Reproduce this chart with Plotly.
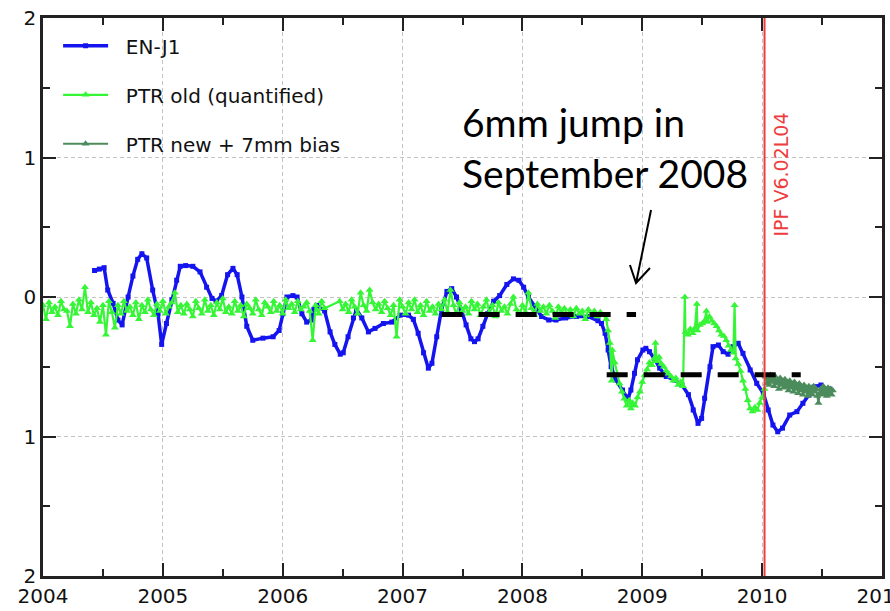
import plotly.graph_objects as go

# ---------------------------------------------------------------------------
# EN-J1 (Envisat minus Jason-1) relative range series
# ---------------------------------------------------------------------------
enj1_year = [
    2004.43, 2004.47, 2004.51, 2004.54, 2004.585, 2004.625, 2004.66, 2004.71,
    2004.75, 2004.79, 2004.825, 2004.865, 2004.915, 2004.96, 2004.99, 2005.03,
    2005.075, 2005.115, 2005.145, 2005.19, 2005.25, 2005.31, 2005.365, 2005.41,
    2005.445, 2005.49, 2005.54, 2005.585, 2005.62, 2005.66, 2005.70, 2005.75,
    2005.835, 2005.92, 2005.97, 2006.00, 2006.035, 2006.085, 2006.12, 2006.16,
    2006.20, 2006.24, 2006.26, 2006.285, 2006.35, 2006.395, 2006.435, 2006.48,
    2006.505, 2006.545, 2006.59, 2006.615, 2006.66, 2006.715, 2006.77, 2006.84,
    2006.91, 2006.98, 2007.05, 2007.09, 2007.13, 2007.175, 2007.215, 2007.245,
    2007.285, 2007.325, 2007.37, 2007.41, 2007.45, 2007.49, 2007.53, 2007.57,
    2007.60, 2007.63, 2007.67, 2007.71, 2007.76, 2007.81, 2007.87, 2007.925,
    2007.97, 2008.01, 2008.05, 2008.11, 2008.16, 2008.22, 2008.28, 2008.36,
    2008.45, 2008.55, 2008.63, 2008.66, 2008.69, 2008.715, 2008.74, 2008.78,
    2008.835, 2008.88, 2008.905, 2008.935, 2008.96, 2009.005, 2009.03, 2009.06,
    2009.10, 2009.145, 2009.20, 2009.27, 2009.33, 2009.385, 2009.425, 2009.465,
    2009.495, 2009.52, 2009.565, 2009.59, 2009.635, 2009.675, 2009.716, 2009.757,
    2009.80, 2009.84, 2009.90, 2009.955, 2010.01, 2010.05, 2010.09, 2010.13,
    2010.17, 2010.23, 2010.29, 2010.34, 2010.39, 2010.44, 2010.49, 2010.545,
    2010.565,
]
enj1_val = [
    0.19, 0.20, 0.21, 0.05, -0.045, -0.165, -0.20, 0.0,
    0.15, 0.27, 0.31, 0.28, 0.05, -0.12, -0.34, -0.19,
    -0.02, 0.12, 0.22, 0.225, 0.22, 0.18, 0.07, -0.01,
    -0.03, 0.01, 0.16, 0.205, 0.16, 0.0, -0.21, -0.31,
    -0.295, -0.285, -0.24, -0.12, 0.0, 0.01, 0.0, -0.12,
    -0.18, -0.165, -0.09, -0.06, -0.10, -0.25, -0.34, -0.41,
    -0.40, -0.285, -0.15, -0.09, -0.15, -0.25, -0.225, -0.19,
    -0.18, -0.13, -0.13, -0.16, -0.26, -0.40, -0.51, -0.475,
    -0.285, -0.09, 0.04, 0.06, 0.0, -0.09, -0.20, -0.30,
    -0.32, -0.30, -0.21, -0.12, -0.03, 0.01, 0.09, 0.13,
    0.12, 0.07, 0.0, -0.08, -0.14, -0.165, -0.165, -0.15,
    -0.14, -0.14, -0.17, -0.19, -0.26, -0.38, -0.50, -0.595,
    -0.667, -0.73, -0.667, -0.547, -0.45, -0.38, -0.368, -0.392,
    -0.44, -0.51, -0.57, -0.595, -0.63, -0.70, -0.81, -0.906,
    -0.87, -0.726, -0.50, -0.356, -0.344, -0.392, -0.41, -0.356,
    -0.332, -0.404, -0.523, -0.619, -0.69, -0.81, -0.918, -0.966,
    -0.94, -0.846, -0.822, -0.762, -0.703, -0.643, -0.631, -0.69,
    -0.66,
]

# ---------------------------------------------------------------------------
# PTR old (quantified): regular sampling before the September 2008 jump
# (sampling step of 0.025 yr starting at 2004.0; None = no data)
# ---------------------------------------------------------------------------
ptr_old_start = 2004.0
ptr_old_step = 0.025
ptr_old_regular = [
    -0.06, -0.16, -0.04, -0.11, -0.07, -0.13, -0.03, -0.09,
    -0.10, -0.21, -0.05, -0.12, -0.02, -0.09, 0.07, -0.11,
    -0.04, -0.13, -0.08, -0.18, -0.06, -0.27, -0.03, -0.11,
    -0.22, -0.06, -0.12, -0.03, -0.10, -0.07, -0.13, -0.04,
    -0.16, -0.06, -0.11, -0.02, -0.09, -0.13, -0.05, -0.10,
    -0.03, -0.12, -0.07, -0.04, 0.03, -0.11, -0.06, -0.12,
    -0.05, -0.09, -0.14, -0.03, -0.08, -0.12, -0.02, -0.10,
    -0.06, -0.13, -0.04, -0.09, -0.01, -0.11, -0.07, -0.12,
    -0.03, -0.10, -0.06, -0.14, -0.05, -0.08, -0.12, -0.02,
    -0.09, -0.13, -0.04, -0.07, -0.11, -0.03, -0.10, -0.06,
    -0.12, -0.02, -0.08, -0.05, -0.11, -0.03, -0.09, -0.07,
    -0.04, -0.10, -0.31, -0.06, -0.12, -0.03, -0.08, None,
    None, None, None, -0.03, -0.09, -0.05, -0.11, -0.02,
    -0.07, -0.12, 0.03, -0.06, -0.10, 0.05, -0.04, -0.09,
    -0.05, -0.11, -0.03, -0.08, -0.13, -0.06, -0.285, -0.02,
    -0.07, -0.12, -0.04, -0.09, -0.02, -0.11, -0.06, -0.13,
    -0.03, -0.10, -0.07, -0.12, -0.05, -0.09, -0.02, -0.11,
    0.05, -0.06, -0.13, -0.04, -0.10, -0.07, -0.12, -0.03,
    -0.09, -0.05, -0.13, -0.07, -0.02, -0.11, -0.06, -0.14,
    -0.04, -0.10, -0.07, -0.12, -0.05, 0.0, -0.09, -0.13,
    -0.06, -0.11, 0.03, -0.08, -0.13, -0.05, -0.10, -0.07,
    -0.12, -0.06, -0.10, -0.15, -0.07, -0.11, -0.08, -0.13,
    -0.09, -0.14, -0.08, -0.12, -0.10, -0.16, -0.09, -0.13,
    -0.10, -0.14, -0.11, -0.13,
]

# PTR old (quantified) after the jump, irregular epochs
ptr_old_jump_year = [
    2008.70, 2008.715, 2008.73, 2008.745, 2008.75, 2008.77, 2008.79, 2008.81,
    2008.83, 2008.85, 2008.87, 2008.89, 2008.905, 2008.92, 2008.94, 2008.96,
    2008.98, 2009.00, 2009.02, 2009.04, 2009.06, 2009.08, 2009.10, 2009.11,
    2009.12, 2009.14, 2009.16, 2009.18, 2009.20, 2009.22, 2009.24, 2009.26,
    2009.28, 2009.30, 2009.32, 2009.34, 2009.355, 2009.36, 2009.38, 2009.40,
    2009.42, 2009.44, 2009.455, 2009.46, 2009.48, 2009.50, 2009.52, 2009.535,
    2009.54, 2009.56, 2009.58, 2009.60, 2009.62, 2009.64, 2009.66, 2009.68,
    2009.70, 2009.72, 2009.74, 2009.76, 2009.77, 2009.78, 2009.80, 2009.82,
    2009.84, 2009.86, 2009.88, 2009.90, 2009.92, 2009.94, 2009.96, 2009.98,
    2010.00, 2010.02,
]
ptr_old_jump_val = [
    -0.16, -0.24, -0.33, -0.60, -0.38, -0.47, -0.55, -0.62,
    -0.68, -0.73, -0.78, -0.74, -0.80, -0.76, -0.78, -0.72,
    -0.68, -0.61, -0.56, -0.52, -0.47, -0.49, -0.44, -0.33,
    -0.46, -0.43, -0.48, -0.50, -0.53, -0.55, -0.57, -0.60,
    -0.58, -0.63, -0.61, -0.64, 0.0, -0.25, -0.27, -0.23,
    -0.26, -0.22, -0.05, -0.24, -0.20, -0.19, -0.17, -0.10,
    -0.18, -0.14, -0.17, -0.19, -0.21, -0.24, -0.27, -0.28,
    -0.31, -0.35, -0.38, -0.40, -0.06, -0.44, -0.48, -0.53,
    -0.60, -0.66, -0.74, -0.80, -0.82, -0.79, -0.81, -0.76,
    -0.72, -0.66,
]

# ---------------------------------------------------------------------------
# PTR new + 7mm bias (after the IPF V6.02L04 switch)
# ---------------------------------------------------------------------------
ptr_new_year = [
    2010.03, 2010.04, 2010.05, 2010.06, 2010.07, 2010.08, 2010.09, 2010.10,
    2010.11, 2010.12, 2010.13, 2010.14, 2010.15, 2010.16, 2010.17, 2010.18,
    2010.19, 2010.20, 2010.21, 2010.22, 2010.23, 2010.24, 2010.25, 2010.26,
    2010.27, 2010.28, 2010.29, 2010.30, 2010.31, 2010.32, 2010.33, 2010.34,
    2010.35, 2010.36, 2010.37, 2010.38, 2010.39, 2010.40, 2010.41, 2010.42,
    2010.43, 2010.44, 2010.45, 2010.46, 2010.47, 2010.48, 2010.49, 2010.50,
    2010.51, 2010.52, 2010.53, 2010.54, 2010.55, 2010.56, 2010.57, 2010.58,
    2010.59,
]
ptr_new_val = [
    -0.57, -0.62, -0.58, -0.63, -0.56, -0.61, -0.59, -0.64,
    -0.57, -0.62, -0.60, -0.66, -0.58, -0.63, -0.60, -0.65,
    -0.59, -0.64, -0.61, -0.67, -0.60, -0.65, -0.62, -0.68,
    -0.61, -0.66, -0.63, -0.69, -0.62, -0.67, -0.64, -0.70,
    -0.63, -0.68, -0.65, -0.71, -0.64, -0.69, -0.65, -0.70,
    -0.64, -0.68, -0.66, -0.71, -0.76, -0.69, -0.66, -0.70,
    -0.64, -0.69, -0.66, -0.71, -0.65, -0.69, -0.66, -0.70,
    -0.67,
]

# Mean levels before / after the September 2008 jump
level_before_years = [2007.326, 2008.948]
level_before = -0.125
level_after_years = [2008.703, 2010.322]
level_after = -0.557

# Processing change
ipf_date = 2010.02
ipf_label = "IPF V6.02L04"

x_ticks = [2004, 2005, 2006, 2007, 2008, 2009, 2010, 2011]
y_ticks = [-2, -1, 0, 1, 2]
y_ticktext = ["2", "1", "0", "1", "2"]

BLUE = "#1414ee"
LIME = "#36f536"
DKGREEN = "#4c8c5c"
RED = "#ee3b3b"
AXIS = "#222222"
GRID = "#c4c4c4"
TICKFONT = dict(family="DejaVu Sans", size=20, color="#111111")
NBSP2 = "\u00a0\u00a0"

ptr_old_year = [round(ptr_old_start + ptr_old_step * i, 3) for i in range(len(ptr_old_regular))]
ptr_old_year += ptr_old_jump_year
ptr_old_val = ptr_old_regular + ptr_old_jump_val

fig = go.Figure()

fig.add_trace(go.Scatter(
    x=enj1_year, y=enj1_val, name=NBSP2 + "EN-J1", mode="lines+markers",
    line=dict(color=BLUE, width=3.5),
    marker=dict(symbol="square", size=5, color=BLUE),
    legendgroup="g1",
))
fig.add_trace(go.Scatter(
    x=ptr_old_year, y=ptr_old_val, name=NBSP2 + "PTR old (quantified)", mode="lines+markers",
    connectgaps=True,
    line=dict(color=LIME, width=2.2),
    marker=dict(symbol="triangle-up", size=7, color=LIME),
    legendgroup="g2",
))
fig.add_trace(go.Scatter(
    x=ptr_new_year, y=ptr_new_val, name=NBSP2 + "PTR new + 7mm bias", mode="lines+markers",
    line=dict(color=DKGREEN, width=2),
    marker=dict(symbol="triangle-up", size=7, color=DKGREEN),
    legendgroup="g3",
))
fig.add_trace(go.Scatter(
    x=level_before_years, y=[level_before] * 2, mode="lines", showlegend=False,
    line=dict(color="black", width=5, dash="21px,16px"), hoverinfo="skip",
))
fig.add_trace(go.Scatter(
    x=level_after_years, y=[level_after] * 2, mode="lines", showlegend=False,
    line=dict(color="black", width=5, dash="21px,16px"), hoverinfo="skip",
))

# IPF switch marker
fig.add_shape(type="line", xref="x", yref="paper", x0=ipf_date, x1=ipf_date,
              y0=0, y1=1, line=dict(color=RED, width=2))
fig.add_annotation(x=ipf_date + 0.14, y=0.88, text=ipf_label, textangle=-90,
                   showarrow=False, font=dict(family="DejaVu Sans", size=19, color=RED))

# Jump annotation with an open arrow
fig.add_annotation(x=2007.48, y=1.07, xanchor="left", yanchor="middle", align="left",
                   text="6mm jump in<br>September 2008", showarrow=False,
                   font=dict(family="Lato", size=39, color="black"))
fig.add_shape(type="path", xref="x", yref="y",
              path="M 2009.073 0.624 L 2008.948 0.100 M 2008.897 0.229 L 2008.948 0.100 L 2009.064 0.208",
              line=dict(color="black", width=2))

axis_common = dict(
    showline=True, linewidth=2.5, linecolor=AXIS, mirror="allticks",
    ticks="inside", ticklen=13, tickwidth=2, tickcolor=AXIS,
    showgrid=True, gridcolor=GRID, gridwidth=1, griddash="4px,3px",
    zeroline=False, tickfont=TICKFONT, automargin=False,
    minor=dict(dtick=0.5, ticks="inside", ticklen=7, tickwidth=2, tickcolor=AXIS, showgrid=False),
)

fig.update_layout(
    width=890, height=611,
    margin=dict(l=43, r=8, t=18, b=35),
    paper_bgcolor="white", plot_bgcolor="white",
    xaxis=dict(range=[2004, 2011], tickvals=x_ticks, ticktext=[str(v) for v in x_ticks],
               ticklabeloverflow="allow", **axis_common),
    yaxis=dict(range=[-2, 2], tickvals=y_ticks, ticktext=y_ticktext, **axis_common),
    legend=dict(x=0.018, y=0.985, xanchor="left", yanchor="top",
                bgcolor="rgba(0,0,0,0)", font=dict(family="DejaVu Sans", size=20, color="#111111"),
                tracegroupgap=20, itemwidth=45),
    showlegend=True,
)

fig.write_html("out.html")
